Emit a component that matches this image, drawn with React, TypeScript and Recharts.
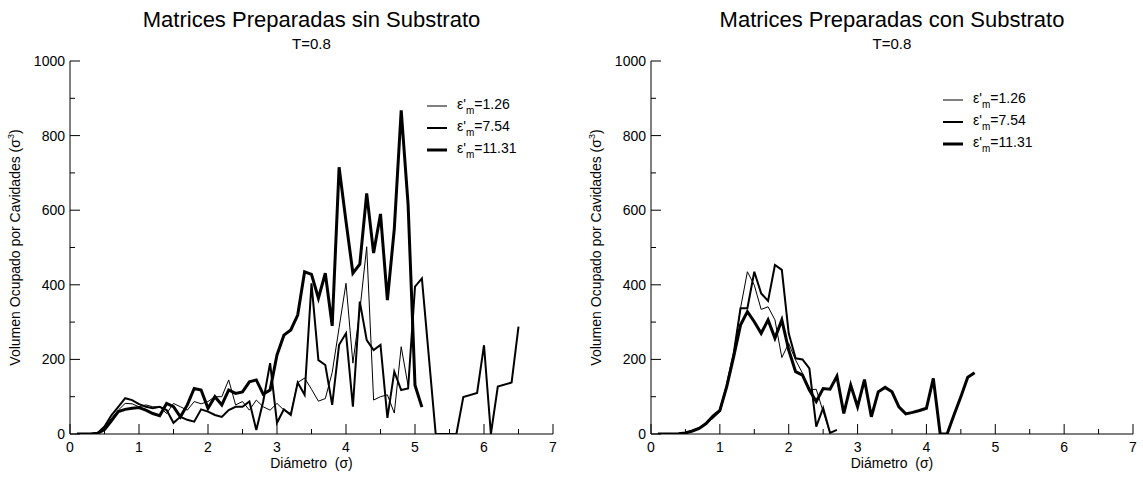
import { LineChart, Line, XAxis, YAxis, Legend } from 'recharts'

const FONT = '"Liberation Sans", Arial, Helvetica, sans-serif'

// ticks
const X_TICKS = [0, 0.5, 1, 1.5, 2, 2.5, 3, 3.5, 4, 4.5, 5, 5.5, 6, 6.5, 7]
const Y_TICKS = [0, 100, 200, 300, 400, 500, 600, 700, 800, 900, 1000]

// legend labels (ε'm)
const EPS = ['1.26', '7.54', '11.31']

// --- sin substrato ---
const D_SIN_126 = [
  0.1, 0.2, 0.3, 0.4, 0.5, 0.6, 0.7, 0.8, 0.9, 1.0,
  1.1, 1.2, 1.3, 1.4, 1.5, 1.6, 1.7, 1.8, 1.9, 2.0,
  2.1, 2.2, 2.3, 2.4, 2.5, 2.6, 2.7, 2.8, 2.9, 3.0,
  3.1, 3.2, 3.3, 3.4, 3.5, 3.6, 3.7, 3.8, 3.9, 4.0,
  4.1, 4.2, 4.3, 4.4, 4.5, 4.6, 4.7, 4.8, 4.9,
]
const V_SIN_126 = [
  0, 0, 0, 3, 18, 42, 64, 82, 81, 73,
  78, 73, 73, 55, 82, 73, 64, 87, 81, 87,
  100, 100, 145, 78, 87, 64, 91, 73, 64, 82,
  64, 55, 138, 150, 120, 88, 95, 165, 285, 404,
  190, 330, 502, 91, 100, 105, 56, 234, 129,
]

const D_SIN_754 = [
  0.1, 0.2, 0.3, 0.4, 0.5, 0.6, 0.7, 0.8, 0.9, 1.0,
  1.1, 1.2, 1.3, 1.4, 1.5, 1.6, 1.7, 1.8, 1.9, 2.0,
  2.1, 2.2, 2.3, 2.4, 2.5, 2.6, 2.7, 2.8, 2.9, 3.0,
  3.1, 3.2, 3.3, 3.4, 3.5, 3.6, 3.7, 3.8, 3.9, 4.0,
  4.1, 4.2, 4.3, 4.4, 4.5, 4.6, 4.7, 4.8, 4.9, 5.0,
  5.1, 5.3, 5.4, 5.5, 5.6, 5.7, 5.9, 6.0, 6.1, 6.2,
  6.4, 6.5,
]
const V_SIN_754 = [
  0, 0, 0, 3, 20, 50, 73, 96, 91, 80,
  73, 69, 73, 64, 30, 46, 38, 33, 66, 60,
  51, 46, 64, 73, 73, 87, 11, 87, 190, 30,
  66, 51, 138, 105, 404, 198, 185, 78, 239, 270,
  73, 355, 252, 225, 239, 43, 167, 118, 122, 395,
  417, 0, 0, 0, 0, 99, 110, 238, 0, 127,
  138, 288,
]

const D_SIN_1131 = [
  0.1, 0.2, 0.3, 0.4, 0.5, 0.6, 0.7, 0.8, 0.9, 1.0,
  1.1, 1.2, 1.3, 1.4, 1.5, 1.6, 1.7, 1.8, 1.9, 2.0,
  2.1, 2.2, 2.3, 2.4, 2.5, 2.6, 2.7, 2.8, 2.9, 3.0,
  3.1, 3.2, 3.3, 3.4, 3.5, 3.6, 3.7, 3.8, 3.9, 4.0,
  4.1, 4.2, 4.3, 4.4, 4.5, 4.6, 4.7, 4.8, 4.9, 5.0,
  5.1,
]
const V_SIN_1131 = [
  0, 0, 0, 2, 12, 35, 60, 66, 69, 71,
  64, 55, 49, 82, 73, 46, 78, 122, 118, 69,
  100, 78, 118, 109, 113, 140, 145, 107, 118, 212,
  265, 279, 319, 435, 428, 364, 431, 290, 715, 570,
  431, 455, 645, 485, 590, 359, 550, 868, 615, 131,
  72,
]

// --- con substrato ---
const D_CON_126 = [
  0.1, 0.2, 0.3, 0.4, 0.5, 0.6, 0.7, 0.8, 0.9, 1.0,
  1.1, 1.2, 1.3, 1.4, 1.5, 1.6, 1.7, 1.8, 1.9, 2.0,
  2.1, 2.2, 2.3, 2.4, 2.5, 2.6,
]
const V_CON_126 = [
  0, 0, 0, 1, 3, 8, 15, 27, 42, 60,
  128, 212, 337, 435, 399, 334, 341, 306, 205, 243,
  198, 163, 118, 120, 60, 3,
]

const D_CON_754 = [
  0.1, 0.2, 0.3, 0.4, 0.5, 0.6, 0.7, 0.8, 0.9, 1.0,
  1.1, 1.2, 1.3, 1.4, 1.5, 1.6, 1.7, 1.8, 1.9, 2.0,
  2.1, 2.2, 2.3, 2.4, 2.5, 2.6, 2.7,
]
const V_CON_754 = [
  0, 0, 0, 1, 3, 8, 16, 28, 45, 62,
  130, 215, 337, 337, 435, 377, 357, 453, 440, 270,
  203, 200, 176, 20, 70, 3, 11,
]

const D_CON_1131 = [
  0.1, 0.2, 0.3, 0.4, 0.5, 0.6, 0.7, 0.8, 0.9, 1.0,
  1.1, 1.2, 1.3, 1.4, 1.5, 1.6, 1.7, 1.8, 1.9, 2.0,
  2.1, 2.2, 2.3, 2.4, 2.5, 2.6, 2.7, 2.8, 2.9, 3.0,
  3.1, 3.2, 3.3, 3.4, 3.5, 3.6, 3.7, 3.8, 3.9, 4.0,
  4.1, 4.2, 4.3, 4.4, 4.5, 4.6, 4.7,
]
const V_CON_1131 = [
  0, 0, 0, 1, 3, 8, 15, 28, 48, 63,
  127, 207, 292, 328, 301, 270, 306, 257, 306, 225,
  167, 158, 118, 87, 122, 120, 155, 55, 131, 73,
  146, 46, 113, 125, 113, 73, 54, 58, 63, 69,
  149, 0, 0, 51, 100, 152, 164,
]

const toPoints = (d: number[], v: number[]) => d.map((x, i) => ({ d: x, v: v[i] }))

const LINE_W = [1, 2, 3] // fino, medio, grueso

type Serie = { name: string; data: { d: number; v: number }[] }

function BottomTick({ x, y, payload }: any) {
  const major = Number.isInteger(payload.value)
  return (
    <g>
      <line x1={x} x2={x} y1={y} y2={y - (major ? 10 : 5)} stroke="#000" />
      {major && (
        <text x={x} y={y + 18} textAnchor="middle" fontSize={14} fontFamily={FONT} fill="#000">
          {payload.value}
        </text>
      )}
    </g>
  )
}

function TopTick({ x, y, payload }: any) {
  const major = Number.isInteger(payload.value)
  return <line x1={x} x2={x} y1={y} y2={y + (major ? 10 : 5)} stroke="#000" />
}

function LeftTick({ x, y, payload }: any) {
  const major = payload.value % 200 === 0
  return (
    <g>
      <line x1={x} x2={x + (major ? 10 : 5)} y1={y} y2={y} stroke="#000" />
      {major && (
        <text x={x - 5} y={y + 5} textAnchor="end" fontSize={14} fontFamily={FONT} fill="#000">
          {payload.value}
        </text>
      )}
    </g>
  )
}

function RightTick({ x, y, payload }: any) {
  const major = payload.value % 200 === 0
  return <line x1={x} x2={x - (major ? 10 : 5)} y1={y} y2={y} stroke="#000" />
}

function YTitle(props: any) {
  const vb = props.viewBox
  const cx = vb.x + vb.width - 50
  const cy = vb.y + vb.height / 2
  return (
    <text
      x={cx}
      y={cy}
      transform={`rotate(-90 ${cx} ${cy})`}
      textAnchor="middle"
      fontSize={14}
      fontFamily={FONT}
      fill="#000"
    >
      Volumen Ocupado por Cavidades (σ
      <tspan dy={-6} fontSize={9}>3</tspan>
      <tspan dy={6}>)</tspan>
    </text>
  )
}

function XTitle(props: any) {
  const vb = props.viewBox
  return (
    <text
      x={vb.x + vb.width / 2}
      y={vb.y + 34}
      textAnchor="middle"
      fontSize={14}
      fontFamily={FONT}
      fill="#000"
      style={{ whiteSpace: 'pre' }}
    >
      {'Diámetro  (σ)'}
    </text>
  )
}

function LegendBox() {
  return (
    <div style={{ fontFamily: FONT, fontSize: 14, color: '#000' }}>
      {EPS.map((e, i) => (
        <div key={e} style={{ display: 'flex', alignItems: 'center', height: 22 }}>
          <svg width={20} height={6} style={{ marginRight: 10 }}>
            <line x1={0} x2={20} y1={3} y2={3} stroke="#000" strokeWidth={LINE_W[i]} />
          </svg>
          <span>
            ε'<sub style={{ fontSize: 10, verticalAlign: -5 }}>m</sub>={e}
          </span>
        </div>
      ))}
    </div>
  )
}

function Panel({
  title,
  series,
  left,
  width,
  axisW,
  rightM,
  legendLeft,
  legendTop,
}: {
  title: string
  series: Serie[]
  left: number
  width: number
  axisW: number
  rightM: number
  legendLeft: number
  legendTop: number
}) {
  const plotW = width - axisW - rightM
  return (
    <div style={{ position: 'absolute', left, top: 0, width, height: 481 }}>
      <div
        style={{
          position: 'absolute',
          left: axisW,
          width: plotW,
          top: 9,
          textAlign: 'center',
          fontSize: 22,
          lineHeight: '22px',
          whiteSpace: 'nowrap',
        }}
      >
        {title}
      </div>
      <div
        style={{
          position: 'absolute',
          left: axisW,
          width: plotW,
          top: 36,
          textAlign: 'center',
          fontSize: 15,
          lineHeight: '15px',
        }}
      >
        T=0.8
      </div>
      <LineChart width={width} height={481} margin={{ top: 61, right: rightM, bottom: 0, left: 0 }}>
        <XAxis
          xAxisId="b"
          dataKey="d"
          type="number"
          domain={[0, 7]}
          ticks={X_TICKS}
          interval={0}
          allowDataOverflow
          height={47}
          tickSize={0}
          tickMargin={0}
          tickLine={false}
          tick={BottomTick}
          axisLine={{ stroke: '#000' }}
          label={XTitle}
        />
        <XAxis
          xAxisId="t"
          orientation="top"
          dataKey="d"
          type="number"
          domain={[0, 7]}
          ticks={X_TICKS}
          interval={0}
          height={0}
          tickSize={0}
          tickMargin={0}
          tickLine={false}
          tick={TopTick}
          axisLine={{ stroke: '#000' }}
        />
        <YAxis
          yAxisId="l"
          type="number"
          domain={[0, 1000]}
          ticks={Y_TICKS}
          interval={0}
          allowDataOverflow
          width={axisW}
          tickSize={0}
          tickMargin={0}
          tickLine={false}
          tick={LeftTick}
          axisLine={{ stroke: '#000' }}
          label={YTitle}
        />
        <YAxis
          yAxisId="r"
          orientation="right"
          type="number"
          domain={[0, 1000]}
          ticks={Y_TICKS}
          interval={0}
          width={0}
          tickSize={0}
          tickMargin={0}
          tickLine={false}
          tick={RightTick}
          axisLine={{ stroke: '#000' }}
        />
        <Legend
          layout="vertical"
          align="center"
          verticalAlign="middle"
          wrapperStyle={{ top: legendTop, left: legendLeft, width: 150 }}
          content={() => <LegendBox />}
        />
        {series.map((s, i) => (
          <Line
            key={s.name}
            xAxisId="b"
            yAxisId="l"
            data={s.data}
            dataKey="v"
            name={s.name}
            stroke="#000"
            strokeWidth={LINE_W[i]}
            dot={false}
            activeDot={false}
            isAnimationActive={false}
          />
        ))}
      </LineChart>
    </div>
  )
}

export default function App() {
  const sin: Serie[] = [
    { name: EPS[0], data: toPoints(D_SIN_126, V_SIN_126) },
    { name: EPS[1], data: toPoints(D_SIN_754, V_SIN_754) },
    { name: EPS[2], data: toPoints(D_SIN_1131, V_SIN_1131) },
  ]
  const con: Serie[] = [
    { name: EPS[0], data: toPoints(D_CON_126, V_CON_126) },
    { name: EPS[1], data: toPoints(D_CON_754, V_CON_754) },
    { name: EPS[2], data: toPoints(D_CON_1131, V_CON_1131) },
  ]
  return (
    <div
      style={{
        position: 'absolute',
        left: 0,
        top: 0,
        width: 1143,
        height: 481,
        background: '#fff',
        fontFamily: FONT,
        color: '#000',
      }}
    >
      <Panel
        title="Matrices Preparadas sin Substrato"
        series={sin}
        left={0}
        width={572}
        axisW={70}
        rightM={19}
        legendLeft={427}
        legendTop={95}
      />
      <Panel
        title="Matrices Preparadas con Substrato"
        series={con}
        left={572}
        width={571}
        axisW={79}
        rightM={10}
        legendLeft={371}
        legendTop={89}
      />
    </div>
  )
}
